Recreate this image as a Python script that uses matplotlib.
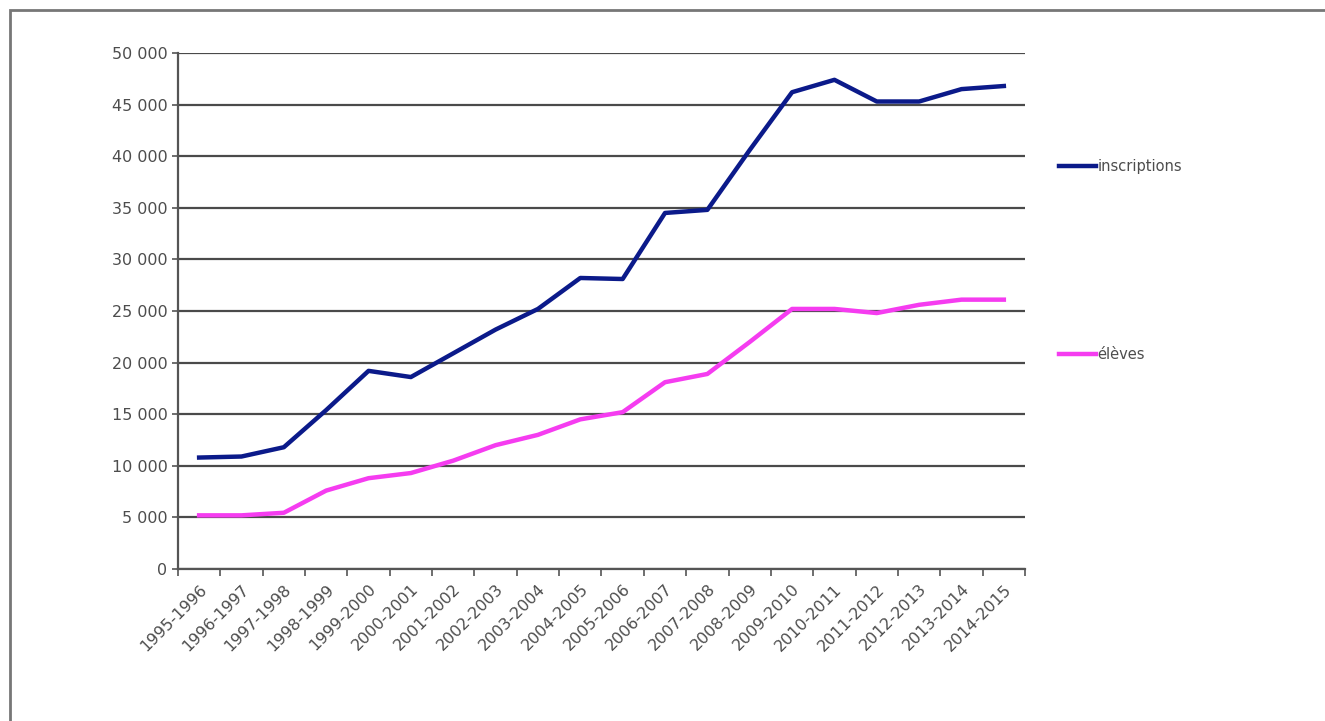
import matplotlib
matplotlib.use("Agg")
from matplotlib import pyplot as plt
from matplotlib.patches import Rectangle
import numpy as np

annees = ["1995-1996", "1996-1997", "1997-1998", "1998-1999", "1999-2000",
          "2000-2001", "2001-2002", "2002-2003", "2003-2004", "2004-2005",
          "2005-2006", "2006-2007", "2007-2008", "2008-2009", "2009-2010",
          "2010-2011", "2011-2012", "2012-2013", "2013-2014", "2014-2015"]
inscriptions = [10800, 10900, 11800, 15400, 19200, 18600, 20900, 23200, 25200, 28200,
                28100, 34500, 34800, 40600, 46200, 47400, 45300, 45300, 46500, 46800]
eleves = [5200, 5200, 5450, 7600, 8800, 9300, 10500, 12000, 13000, 14500,
          15200, 18100, 18900, 22000, 25200, 25200, 24800, 25600, 26100, 26100]
yticks = np.arange(0, 50001, 5000)

fig = plt.figure(figsize=(13.25, 7.21), dpi=100)
ax = fig.add_axes([0.1343, 0.2108, 0.6393, 0.7157])

x = np.arange(len(annees))
l1, = ax.plot(x, inscriptions, color="#0b1a8a", lw=3.2, label="inscriptions")
l2, = ax.plot(x, eleves, color="#f53cf0", lw=3.2, label="élèves")

ax.set_xlim(-0.5, len(annees) - 0.5)
ax.set_ylim(0, 50000)
ax.set_yticks(yticks)
ax.set_yticklabels([f"{v:,}".replace(",", " ") for v in yticks])
ax.yaxis.grid(True, color="#4a4a4a", lw=1.6)
ax.set_axisbelow(True)

ax.set_xticks(x)
ax.set_xticklabels(annees, rotation=45, ha="right", rotation_mode="anchor")
ax.set_xticks(np.arange(-0.5, len(annees)), minor=True)
ax.tick_params(axis="x", which="major", length=0, pad=9, labelsize=11.5, labelcolor="#4d4d4d")
ax.tick_params(axis="x", which="minor", length=5, width=1.2, color="#555555")
ax.tick_params(axis="y", length=4, width=1.2, color="#555555", labelsize=11.5, labelcolor="#4d4d4d")

for s in ["top", "right"]:
    ax.spines[s].set_visible(False)
for s in ["left", "bottom"]:
    ax.spines[s].set_color("#555555")
    ax.spines[s].set_linewidth(1.6)

ax.legend(handles=[l1, l2], loc="upper left", bbox_to_anchor=(1.025, 0.82), frameon=False,
          handlelength=2.5, handletextpad=0.1, labelspacing=11.85, prop={"size": 10.5},
          labelcolor="#4d4d4d")

# cadre gris autour du graphique
fig.patches.append(Rectangle((10 / 1325, -0.05), 1.1, 1 - 10 / 721 + 0.05, transform=fig.transFigure,
                             fill=False, edgecolor="#777777", lw=2))

fig.savefig("out.png", dpi=100)
